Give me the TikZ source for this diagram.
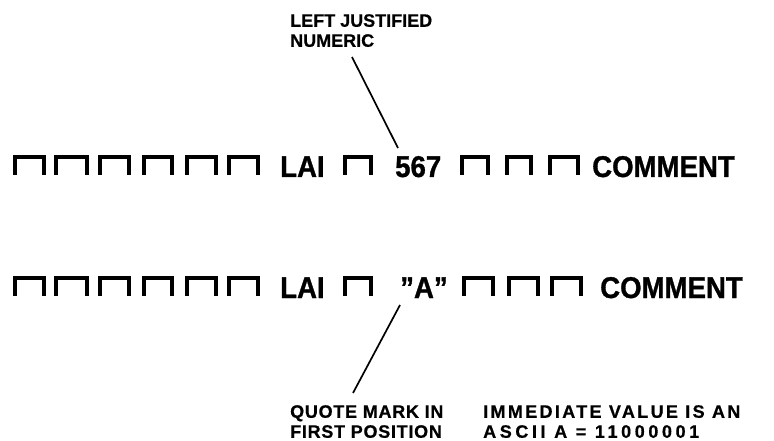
\documentclass[tikz,border=0pt]{standalone}
\usepackage{fontspec}
\setmainfont{Liberation Sans}[BoldFeatures={FakeBold=0.6}]
\newfontfamily\bigfont{Liberation Sans}[FakeStretch=0.92,BoldFeatures={FakeBold=1}]
\usetikzlibrary{positioning}

\begin{document}
\begin{tikzpicture}[
  x=1pt, y=-1pt,
  big/.style={anchor=base west, inner sep=0pt, font=\bigfont\fontsize{30}{32}\selectfont\bfseries},
  lbl/.style={anchor=north west, inner sep=0pt, align=left, font=\fontsize{18}{20}\selectfont\bfseries},
  blank/.style={line width=4pt, line cap=butt},
  lead/.style={line width=1.7pt}
]
  \useasboundingbox (0,0) rectangle (774,441);

  % blank columns, drawn as open-bottom boxes
  \foreach \bx/\bw/\by in {15/29/177,56/31/177,100/29/177,144/28/177,187/29/177,229/29/177,
                           345/26/177,462/26/177,507/24/177,550/28/177,
                           15/29/298,56/31/298,100/29/298,144/28/298,187/29/298,229/29/298,
                           345/26/298,464/29/298,509/29/298,552/29/298}
    \draw[blank] (\bx,\by-2) -- (\bx,\by-20) -- (\bx+\bw,\by-20) -- (\bx+\bw,\by-2);

  % first statement
  \node[big] (lai1) at (280,177) {LAI};
  \node[big] (num) at (395,177) {567};
  \node[big] (cmt1) at (592,177) {COMMENT};

  % second statement
  \node[big] (lai2) at (280,298) {LAI};
  \node[big] (quote) at (400,298) {”A”};
  \node[big] (cmt2) at (600,298) {COMMENT};

  % labels
  \node[lbl] (ljust) at (290,14) {LEFT JUSTIFIED\\NUMERIC};
  \node[lbl] (qmark) at (290,405) {{\addfontfeature{LetterSpace=4}QUOTE MARK IN}\\
                                   {\addfontfeature{LetterSpace=4}FIRST POSITION}};
  \node[lbl] (imm) at (483,405) {{\addfontfeature{LetterSpace=13}IMMEDIATE VALUE IS AN}\\
                                 {\addfontfeature{LetterSpace=20}ASCII A = 11000001}};

  % leaders
  \coordinate (ljtail) at (352,57);
  \coordinate (ljhead) at (398,148);
  \coordinate (qmhead) at (400,305);
  \coordinate (qmtail) at (353,393);
  \draw[lead] (ljtail) -- (ljhead);
  \draw[lead] (qmhead) -- (qmtail);
\end{tikzpicture}
\end{document}
